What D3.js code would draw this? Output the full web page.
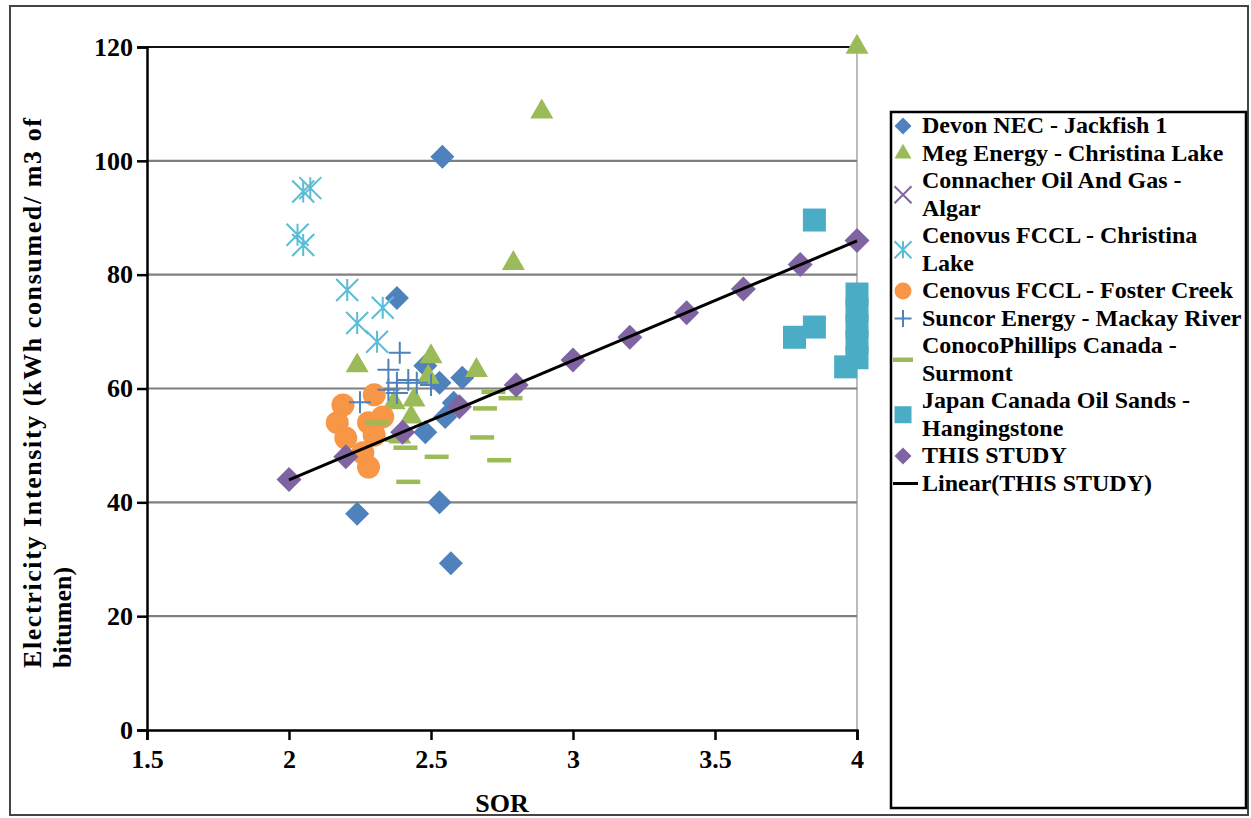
<!DOCTYPE html>
<html>
<head>
<meta charset="utf-8">
<script src="https://cdn.jsdelivr.net/npm/d3@7"></script>
<style>
  body { margin: 0; background: #fff; }
  text { font-family: "Liberation Serif", "DejaVu Serif", serif; font-weight: bold; fill: #000; }
</style>
</head>
<body>
<script>
var width = 1251,
    height = 818;

// tick labels
var xTicks = [1.5, 2, 2.5, 3, 3.5, 4],
    yTicks = [0, 20, 40, 60, 80, 100, 120];

// series values (SOR, kWh/m3)
var devonSOR = [2.54, 2.38, 2.24, 2.53, 2.57, 2.48, 2.53, 2.61, 2.58, 2.55, 2.48],
    devonEI  = [100.7, 75.9, 38, 40, 29.3, 64, 61, 61.9, 57.5, 55, 52.3];

var megSOR = [4, 2.89, 2.79, 2.24, 2.5, 2.66, 2.49, 2.44, 2.37, 2.43, 2.39],
    megEI  = [120, 108.6, 82, 64, 65.6, 63.2, 62, 58, 57.5, 55, 51.5];

var connacherSOR = [],
    connacherEI  = [];

var cenovusClSOR = [2.05, 2.075, 2.03, 2.05, 2.205, 2.33, 2.24, 2.31],
    cenovusClEI  = [94.6, 95.2, 87, 85.2, 77.3, 74.2, 71.5, 68.2];

var fosterSOR = [2.19, 2.3, 2.17, 2.28, 2.33, 2.2, 2.3, 2.26, 2.28],
    fosterEI  = [57.1, 58.9, 54, 54, 55, 51.3, 51.8, 48.7, 46.2];

var suncorSOR = [2.39, 2.35, 2.25, 2.35, 2.38, 2.42, 2.45, 2.5, 2.38],
    suncorEI  = [66.3, 63.3, 57.6, 59.8, 61, 61.5, 61, 60.6, 59.2];

var surmontSOR = [2.31, 2.38, 2.41, 2.52, 2.42, 2.68, 2.74, 2.69, 2.72, 2.78],
    surmontEI  = [54, 51, 49.6, 48, 43.6, 51.4, 47.4, 56.5, 59.4, 58.3];

var jacosSOR = [3.85, 3.78, 3.85, 3.96, 4, 4, 4, 4, 4],
    jacosEI  = [89.6, 69, 70.8, 63.8, 76.6, 73.8, 71, 68.2, 65.4];

var studySOR = [2, 2.2, 2.4, 2.6, 2.8, 3, 3.2, 3.4, 3.6, 3.8, 4],
    studyEI  = [44, 48, 52.3, 56.8, 60.6, 65, 69, 73.3, 77.5, 81.8, 86];

var legendLabels = [
  ["Devon NEC - Jackfish 1"],
  ["Meg Energy - Christina Lake"],
  ["Connacher Oil And Gas -", "Algar"],
  ["Cenovus FCCL - Christina", "Lake"],
  ["Cenovus FCCL - Foster Creek"],
  ["Suncor Energy - Mackay River"],
  ["ConocoPhillips Canada -", "Surmont"],
  ["Japan Canada Oil Sands -", "Hangingstone"],
  ["THIS STUDY"],
  ["Linear(THIS STUDY)"]
];

var blue = "#4F81BD", green = "#9BBB59", purple = "#8064A2",
    cyan = "#4BACC6", orange = "#F79646";

var svg = d3.select("body").append("svg")
    .attr("width", width)
    .attr("height", height);

// outer frame
svg.append("rect")
    .attr("x", 10).attr("y", 6)
    .attr("width", 1238).attr("height", 809)
    .attr("fill", "none")
    .attr("stroke", "#444")
    .attr("stroke-width", 2);

var plotLeft = 147, plotTop = 47, plotW = 710, plotH = 683;

var x = d3.scaleLinear().domain([1.5, 4]).range([plotLeft, plotLeft + plotW]);
var y = d3.scaleLinear().domain([0, 120]).range([plotTop + plotH, plotTop]);

// right border of plot area
svg.append("line")
    .attr("x1", x(4)).attr("x2", x(4))
    .attr("y1", y(120)).attr("y2", y(0))
    .attr("stroke", "#a6a6a6").attr("stroke-width", 1.5);

// horizontal grid
svg.append("g").selectAll("line")
    .data(yTicks.filter(function(d){ return d > 0; }))
    .enter().append("line")
    .attr("x1", x(1.5)).attr("x2", x(4))
    .attr("y1", function(d){ return y(d); })
    .attr("y2", function(d){ return y(d); })
    .attr("stroke", function(d){ return d === 120 ? "#111" : "#7f7f7f"; })
    .attr("stroke-width", 2.2);

// axes
var xAxis = d3.axisBottom(x).tickValues(xTicks).tickSize(10).tickPadding(10)
    .tickFormat(function(d){ return d; });
var yAxis = d3.axisLeft(y).tickValues(yTicks).tickSize(10).tickPadding(4);

var gx = svg.append("g")
    .attr("transform", "translate(0," + y(0) + ")")
    .call(xAxis);
var gy = svg.append("g")
    .attr("transform", "translate(" + x(1.5) + ",0)")
    .call(yAxis);

[gx, gy].forEach(function(g){
  g.select(".domain").attr("stroke", "#000").attr("stroke-width", 2.5);
  g.selectAll(".tick line").attr("stroke", "#000").attr("stroke-width", 2.5);
  g.selectAll(".tick text")
    .attr("font-family", "Liberation Serif")
    .attr("font-weight", "bold")
    .attr("font-size", 26)
    .attr("fill", "#000");
});

// axis titles
svg.append("text")
    .attr("x", x(2.75)).attr("y", 812)
    .attr("text-anchor", "middle")
    .attr("font-size", 26)
    .text("SOR");

var yTitle = svg.append("text")
    .attr("transform", "translate(41,668) rotate(-90)")
    .attr("font-size", 26);
yTitle.append("tspan").attr("x", 0).attr("y", 0)
    .attr("textLength", 550).attr("lengthAdjust", "spacing")
    .text("Electricity Intensity (kWh consumed/ m3 of");
yTitle.append("tspan").attr("x", 0).attr("y", 30)
    .text("bitumen)");

// marker shapes
function diamond(s) { return d3.symbol(d3.symbolSquare, s * s / 2)(); }
function triangle(s) { return d3.symbol(d3.symbolTriangle, Math.sqrt(3) / 4 * s * s)(); }
function square(s) { return d3.symbol(d3.symbolSquare, s * s)(); }
function asterisk(s) {
  var h = s / 2;
  return "M" + (-h) + "," + (-h) + "L" + h + "," + h +
         "M" + (-h) + "," + h + "L" + h + "," + (-h) +
         "M0," + (-h) + "L0," + h;
}
function cross(s) {
  var h = s / 2;
  return "M" + (-h) + "," + (-h) + "L" + h + "," + h +
         "M" + (-h) + "," + h + "L" + h + "," + (-h);
}
function plus(s) {
  var h = s / 2;
  return "M" + (-h) + ",0L" + h + ",0M0," + (-h) + "L0," + h;
}
function dash(s) { return "M" + (-s / 2) + ",0L" + (s / 2) + ",0"; }

var series = [
  {xs: devonSOR, ys: devonEI, shape: diamond, size: 24, fill: blue, stroke: "none", rot: 45},
  {xs: megSOR, ys: megEI, shape: triangle, size: 23, fill: green, stroke: "none"},
  {xs: connacherSOR, ys: connacherEI, shape: cross, size: 20, fill: "none", stroke: purple, sw: 2},
  {xs: cenovusClSOR, ys: cenovusClEI, shape: asterisk, size: 22, fill: "none", stroke: "#5bbcd6", sw: 2},
  {xs: fosterSOR, ys: fosterEI, shape: null, size: 23, fill: orange, stroke: "none"},
  {xs: suncorSOR, ys: suncorEI, shape: plus, size: 22, fill: "none", stroke: blue, sw: 2},
  {xs: surmontSOR, ys: surmontEI, shape: dash, size: 24, fill: "none", stroke: green, sw: 4.5},
  {xs: jacosSOR, ys: jacosEI, shape: square, size: 23, fill: cyan, stroke: "none"},
  {xs: studySOR, ys: studyEI, shape: diamond, size: 25, fill: purple, stroke: "none", rot: 45}
];

function drawMarker(g, s, cx, cy, size) {
  if (!s.shape) {
    g.append("circle").attr("cx", cx).attr("cy", cy).attr("r", size / 2)
      .attr("fill", s.fill);
    return;
  }
  g.append("path")
    .attr("d", s.shape(size))
    .attr("transform", "translate(" + cx + "," + cy + ")" + (s.rot ? " rotate(" + s.rot + ")" : ""))
    .attr("fill", s.fill)
    .attr("stroke", s.stroke)
    .attr("stroke-width", s.sw || 0);
}

var marks = svg.append("g");
series.forEach(function(s){
  var g = marks.append("g");
  s.xs.forEach(function(v, i){
    drawMarker(g, s, x(v), y(s.ys[i]), s.size);
  });
});

// linear trend of THIS STUDY
var mx = d3.mean(studySOR), my = d3.mean(studyEI),
    sxy = d3.sum(studySOR, function(v, i){ return (v - mx) * (studyEI[i] - my); }),
    sxx = d3.sum(studySOR, function(v){ return (v - mx) * (v - mx); }),
    slope = sxy / sxx, icpt = my - slope * mx;
var trendX = d3.extent(studySOR);
svg.append("path")
    .attr("d", d3.line()
      .x(function(d){ return x(d); })
      .y(function(d){ return y(icpt + slope * d); })(trendX))
    .attr("stroke", "#000")
    .attr("stroke-width", 3)
    .attr("fill", "none");

// legend
var lg = svg.append("g");
lg.append("rect")
    .attr("x", 891).attr("y", 112)
    .attr("width", 355).attr("height", 696)
    .attr("fill", "#fff")
    .attr("stroke", "#000")
    .attr("stroke-width", 2.5);

var lineStep = 27.5, baseY = 133, lineIdx = 0;
legendLabels.forEach(function(lines, i){
  var firstBase = baseY + lineIdx * lineStep;
  var markY = firstBase - 7 + (lines.length - 1) * lineStep / 2;
  if (i < series.length) {
    drawMarker(lg, series[i], 903, markY, series[i].shape === dash ? 20 : 17);
  } else {
    lg.append("line")
      .attr("x1", 893).attr("x2", 918)
      .attr("y1", markY).attr("y2", markY)
      .attr("stroke", "#000").attr("stroke-width", 3);
  }
  lines.forEach(function(t, j){
    lg.append("text")
      .attr("x", 922)
      .attr("y", firstBase + j * lineStep)
      .attr("font-size", 24)
      .text(t);
  });
  lineIdx += lines.length;
});
</script>
</body>
</html>
